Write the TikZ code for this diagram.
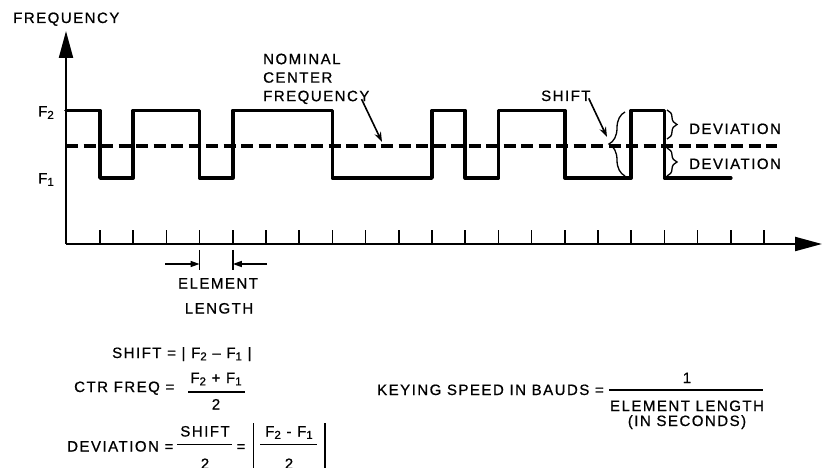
\documentclass[tikz,border=0pt]{standalone}
\usepackage{fontspec}
\setmainfont{Liberation Sans}[LetterSpace=10,FakeBold=0.8]
\usetikzlibrary{arrows.meta,decorations.pathreplacing}
\newcommand\sbs[1]{\raisebox{-0.3ex}{\fontsize{11.5}{11.5}\selectfont #1}}
\begin{document}
\begin{tikzpicture}[x=1pt,y=-1pt,
  font=\fontsize{15}{18.5}\selectfont,
  txt/.style={inner sep=0pt},
  axisline/.style={line width=2.2pt},
  tickline/.style={line width=1.6pt},
  wave/.style={line width=3.6pt,line join=round,line cap=round},
  center/.style={line width=3.2pt,dash pattern=on 12pt off 5.5pt},
  pointer/.style={line width=1.6pt,-{Stealth[length=10pt,width=7pt]}},
  elarrow/.style={line width=1.4pt,-{Triangle[length=9pt,width=6pt]}},
  bar/.style={line width=1.5pt},
  bracepath/.style={line width=1.3pt,decorate,decoration={brace,amplitude=#1}}]
\useasboundingbox (0,0) rectangle (823,468);

% axes
\coordinate (O) at (66,244);
\coordinate (ytip) at (66,31);
\coordinate (xtip) at (822,244);
\draw[axisline,-{Triangle[length=27pt,width=14pt]}] (O) -- (ytip);
\draw[axisline,-{Triangle[length=27pt,width=14pt]}] (O) -- (xtip);
\foreach \k in {0,...,20} \draw[tickline] ({100+33.2*\k},244) -- ++(0,-14);

% center frequency (dashed)
\coordinate (cA) at (66,146);
\coordinate (cB) at (777,146);
\draw[center] (cA) -- (cB);

% waveform
\draw[wave] (66,110.5) -- (100,110.5) -- (100,178) -- (133.2,178) -- (133.2,110.5)
  -- (199.6,110.5) -- (199.6,178) -- (232.8,178) -- (232.8,110.5)
  -- (332.4,110.5) -- (332.4,178) -- (432,178) -- (432,110.5)
  -- (465.2,110.5) -- (465.2,178) -- (498.4,178) -- (498.4,110.5)
  -- (564.8,110.5) -- (564.8,178) -- (631.2,178) -- (631.2,110.5)
  -- (664.4,110.5) -- (664.4,178) -- (730.8,178);

% labels on graph
\node[txt,anchor=base west] (freq) at (13,23) {FREQUENCY};
\node[txt,anchor=base east] (f2) at (54,116.5) {F\sbs{2}};
\node[txt,anchor=base east] (f1) at (54,183.5) {F\sbs{1}};
\node[txt,anchor=north west,align=left] (nom) at (263,53.5) {NOMINAL\\CENTER\\FREQUENCY};
\coordinate (nomtip) at (382,142);
\draw[pointer] ([xshift=-8pt,yshift=5pt]nom.south east) -- (nomtip);

\node[txt,anchor=base west] (shift) at (541,101) {SHIFT};
\coordinate (shifttip) at (607,137);
\draw[pointer] ([xshift=-2pt,yshift=3pt]shift.south east) -- (shifttip);
\coordinate (sbA) at (625,176);
\coordinate (sbB) at (625,112);
\draw[bracepath=16pt] (sbA) -- (sbB);
\coordinate (dbA) at (667,110);
\coordinate (dbB) at (667,139);
\coordinate (dbC) at (667,148);
\coordinate (dbD) at (667,176);
\draw[bracepath=10pt] (dbA) -- (dbB);
\draw[bracepath=10pt] (dbC) -- (dbD);
\node[txt,anchor=base west] (dev1) at (689,134) {DEVIATION};
\node[txt,anchor=base west] (dev2) at (689,169) {DEVIATION};

% element length
\coordinate (eL1) at (199.6,250);
\coordinate (eL2) at (199.6,270);
\coordinate (eR1) at (232.8,250);
\coordinate (eR2) at (232.8,270);
\draw[tickline] (eL1) -- (eL2);
\draw[tickline] (eR1) -- (eR2);
\coordinate (aL) at (165,264);
\coordinate (aLt) at (199.6,264);
\coordinate (aR) at (267,264);
\coordinate (aRt) at (232.8,264);
\draw[elarrow] (aL) -- (aLt);
\draw[elarrow] (aR) -- (aRt);
\node[txt,anchor=base] (elem) at (218,288.5) {ELEMENT};
\node[txt,anchor=base] (len) at (219,313.5) {LENGTH};

% formulas
\node[txt,anchor=base west] (shf) at (112,358) {SHIFT = | F\sbs{2} – F\sbs{1} |};

\node[txt,anchor=base west] (ctr) at (74,392) {CTR FREQ =};
\node[txt,anchor=base] (ctrnum) at (216,383) {F\sbs{2} + F\sbs{1}};
\node[txt,anchor=base] (ctrden) at (216,409.5) {2};
\coordinate (cb1) at (188,392);
\coordinate (cb2) at (245,392);
\draw[bar] (cb1) -- (cb2);

\node[txt,anchor=base west] (dev) at (67,451.5) {DEVIATION =};
\node[txt,anchor=base] (dnum) at (205,436.5) {SHIFT};
\node[txt,anchor=base] (dden) at (205,469) {2};
\coordinate (db1) at (177,444.5);
\coordinate (db2) at (232,444.5);
\draw[bar] (db1) -- (db2);
\node[txt,anchor=base] (deq) at (241,451.5) {=};
\coordinate (ab1) at (253.5,423);
\coordinate (ab2) at (253.5,470);
\coordinate (ab3) at (325,423);
\coordinate (ab4) at (325,470);
\draw[bar] (ab1) -- (ab2);
\draw[bar] (ab3) -- (ab4);
\node[txt,anchor=base] (fnum) at (289,436.5) {F\sbs{2} - F\sbs{1}};
\node[txt,anchor=base] (fden) at (289,469) {2};
\coordinate (fb1) at (260,444.5);
\coordinate (fb2) at (317,444.5);
\draw[bar] (fb1) -- (fb2);

\node[txt,anchor=base east] (key) at (604,395) {KEYING SPEED IN BAUDS =};
\node[txt,anchor=base] (one) at (687,383) {1};
\coordinate (kb1) at (609,390);
\coordinate (kb2) at (763,390);
\draw[bar] (kb1) -- (kb2);
\node[txt,anchor=base] (kden) at (687,411) {ELEMENT LENGTH};
\node[txt,anchor=base] (ksec) at (687,426) {(IN SECONDS)};
\end{tikzpicture}
\end{document}
